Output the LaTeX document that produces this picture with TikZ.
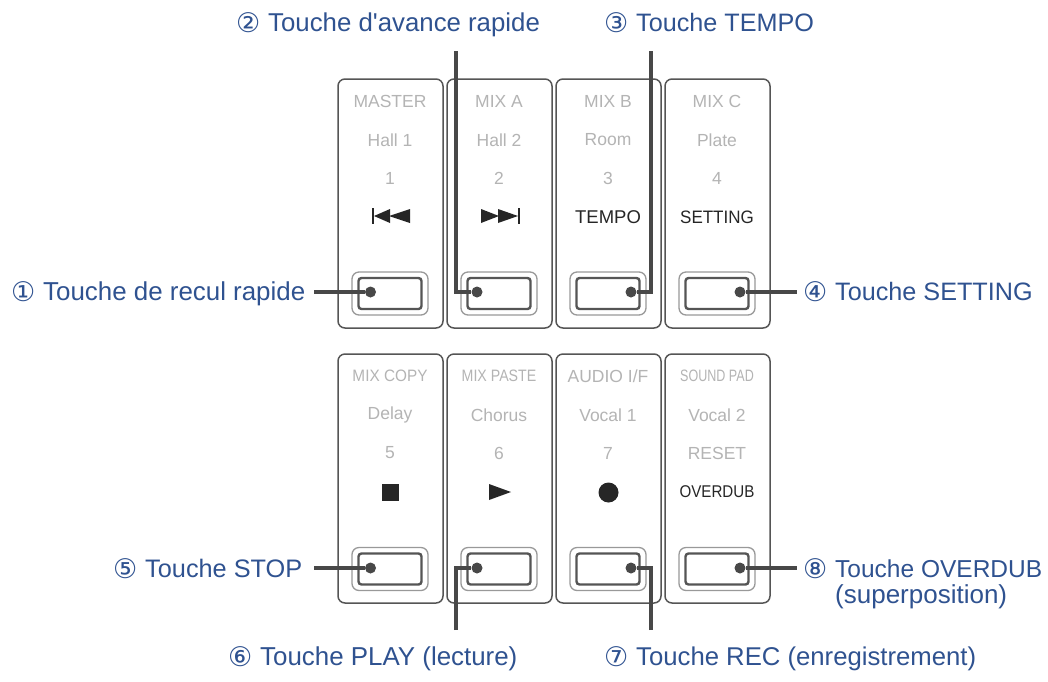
\documentclass[tikz,border=0pt]{standalone}
\usepackage{fontspec}
\setmainfont{Liberation Sans}
\newfontfamily\numfont{DejaVu Sans}
\newfontfamily\straightfont{Liberation Sans}
\definecolor{lblblue}{HTML}{2F5290}
\definecolor{paneledge}{HTML}{555555}
\definecolor{softtext}{HTML}{B4B4B4}
\definecolor{wire}{HTML}{484848}
\tikzset{
  x=1pt,y=-1pt,
  panelbox/.style={draw=paneledge,line width=1.5pt,rounded corners=7pt,minimum width=105pt,minimum height=249pt,inner sep=0pt,fill=white},
  keyouter/.style={draw=paneledge!60,line width=1.3pt,rounded corners=7pt,minimum width=76pt,minimum height=43pt,inner sep=0pt},
  keyinner/.style={draw=paneledge,line width=2.4pt,rounded corners=3pt,minimum width=63pt,minimum height=31pt,inner sep=0pt},
  soft/.style={text=softtext,font=\fontsize{17.5}{19}\selectfont,inner sep=0pt},
  hard/.style={text=black!85,inner sep=0pt},
  lbl/.style={text=lblblue,inner sep=0pt,anchor=base west,align=left},
  wireline/.style={draw=wire,line width=3.2pt},
  wiredot/.style={circle,fill=wire,minimum size=11pt,inner sep=0pt},
  glyph/.style={fill=black!85,draw=none},
}
\newcommand{\cnum}[1]{\makebox[32pt][l]{\smash{\raisebox{-1.5pt}{\numfont\fontsize{27}{27}\selectfont #1}}}}
\newcommand{\lsize}[1]{\fontsize{#1}{26}\selectfont}
\newcommand{\narrow}[2]{\fontsize{#1}{18}\selectfont\addfontfeature{FakeStretch=#2}}
\begin{document}
\begin{tikzpicture}
\useasboundingbox (0,0) rectangle (1048,681);
% panels row 1
\node[panelbox] (p1) at (390.5,203.5) {};
\node[panelbox] (p2) at (499.5,203.5) {};
\node[panelbox] (p3) at (608.5,203.5) {};
\node[panelbox] (p4) at (717.5,203.5) {};
% panels row 2
\node[panelbox] (p5) at (390.5,478.5) {};
\node[panelbox] (p6) at (499.5,478.5) {};
\node[panelbox] (p7) at (608.5,478.5) {};
\node[panelbox] (p8) at (717.5,478.5) {};
% keys
\foreach \k/\x/\y in {1/390/293.5,2/499/293.5,3/608/293.5,4/717/293.5,5/390/569,6/499/569,7/608/569,8/717/569}{
  \node[keyouter] (ko\k) at (\x,\y) {};
  \node[keyinner] (ki\k) at (\x,\y) {};
}
% texts row 1
\node[soft] (t1a) at (390,101) {MASTER};
\node[soft] (t1b) at (390,140) {Hall 1};
\node[soft] (t1c) at (390,178) {1};
\node[soft] (t2a) at (499,101) {MIX A};
\node[soft] (t2b) at (499,140) {Hall 2};
\node[soft] (t2c) at (499,178) {2};
\node[soft] (t3a) at (608,101) {MIX B};
\node[soft] (t3b) at (608,140) {Room};
\node[soft] (t3c) at (608,178) {3};
\node[hard,font=\narrow{18.5}{1}] (t3d) at (608,217) {TEMPO};
\node[soft] (t4a) at (717,101) {MIX C};
\node[soft] (t4b) at (717,140) {Plate};
\node[soft] (t4c) at (717,178) {4};
\node[hard,font=\narrow{18}{.945}] (t4d) at (717,217) {SETTING};
% texts row 2
\node[soft,font=\narrow{16.5}{.93}] (t5a) at (390,376) {MIX COPY};
\node[soft] (t5b) at (390,415) {Delay};
\node[soft] (t5c) at (390,453) {5};
\node[soft,font=\narrow{16.5}{.86}] (t6a) at (499,376) {MIX PASTE};
\node[soft] (t6b) at (499,415) {Chorus};
\node[soft] (t6c) at (499,453) {6};
\node[soft] (t7a) at (608,376) {AUDIO I/F};
\node[soft] (t7b) at (608,415) {Vocal 1};
\node[soft] (t7c) at (608,453) {7};
\node[soft,font=\narrow{16.5}{.76}] (t8a) at (717,376) {SOUND PAD};
\node[soft] (t8b) at (717,415) {Vocal 2};
\node[soft] (t8c) at (717,453) {RESET};
\node[hard,font=\narrow{17}{.89}] (t8d) at (717,492) {OVERDUB};
% glyphs
\fill[glyph] (372,208) rectangle (374,224);
\fill[glyph] (374,216) -- (390,209) -- (390,223) -- cycle;
\fill[glyph] (389,216) -- (410,209) -- (410,223) -- cycle;
\fill[glyph] (481,209) -- (499,216) -- (481,223) -- cycle;
\fill[glyph] (498,209) -- (518,216) -- (498,223) -- cycle;
\fill[glyph] (518,208) rectangle (520,224);
\fill[glyph] (381.5,483.5) rectangle (398.5,500.5);
\fill[glyph] (489,484) -- (511,492) -- (489,500) -- cycle;
\fill[glyph] (608.5,492.5) circle (10);
% labels
\node[lbl,font=\lsize{25.9}] (l1) at (11,300) {\cnum{①}Touche de recul rapide};
\node[lbl,font=\lsize{25.8}] (l2) at (236,31) {\cnum{②}Touche d{\straightfont '}avance rapide};
\node[lbl,font=\lsize{25.2}] (l3) at (604,31) {\cnum{③}Touche TEMPO};
\node[lbl,font=\lsize{25.2}] (l4) at (803,300) {\cnum{④}Touche SETTING};
\node[lbl,font=\lsize{25.3}] (l5) at (113,577) {\cnum{⑤}Touche STOP};
\node[lbl,font=\lsize{25.9}] (l6) at (228,665) {\cnum{⑥}Touche PLAY (lecture)};
\node[lbl,font=\lsize{25.7}] (l7) at (604,665) {\cnum{⑦}Touche REC (enregistrement)};
\node[lbl,font=\lsize{24.5}] (l8) at (803,577) {\cnum{⑧}Touche OVERDUB};
\node[lbl,font=\lsize{26}] (l8b) at (835,603) {(superposition)};
% connector dots
\node[wiredot] (d1) at (370.5,292) {};
\node[wiredot] (d2) at (477,292) {};
\node[wiredot] (d3) at (631,292) {};
\node[wiredot] (d4) at (740,292) {};
\node[wiredot] (d5) at (370.5,568) {};
\node[wiredot] (d6) at (477,568) {};
\node[wiredot] (d7) at (631,568) {};
\node[wiredot] (d8) at (740,568) {};
% free ends
\coordinate (c1) at (314,292);
\coordinate (c2) at (456,51);
\coordinate (c3) at (651,51);
\coordinate (c4) at (797,292);
\coordinate (c5) at (314,568);
\coordinate (c6) at (456,630);
\coordinate (c7) at (651,630);
\coordinate (c8) at (797,568);
\draw[wireline] (c1) -- (d1);
\draw[wireline] (c2) |- (d2);
\draw[wireline] (c3) |- (d3);
\draw[wireline] (d4) -- (c4);
\draw[wireline] (c5) -- (d5);
\draw[wireline] (c6) |- (d6);
\draw[wireline] (c7) |- (d7);
\draw[wireline] (d8) -- (c8);
\end{tikzpicture}
\end{document}
